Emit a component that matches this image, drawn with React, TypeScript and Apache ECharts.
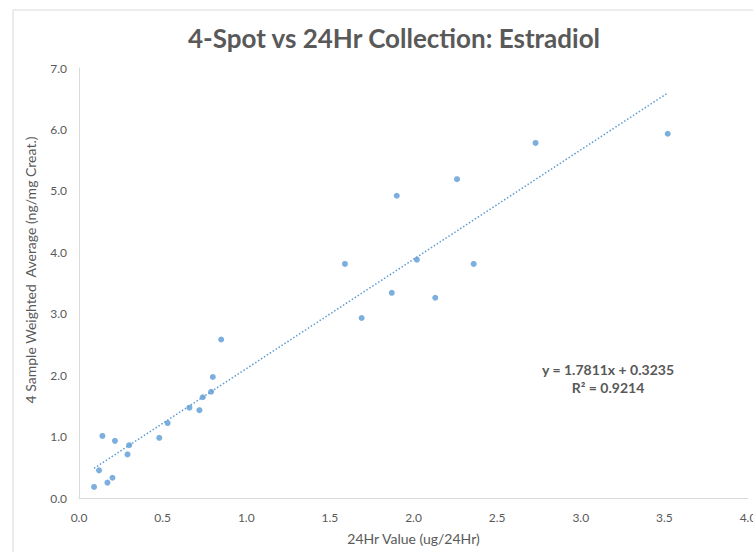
import React, { useEffect, useRef } from "react";
import * as echarts from "echarts";

const xValues = [0.09, 0.12, 0.14, 0.17, 0.2, 0.215, 0.29, 0.3, 0.48, 0.53, 0.66, 0.72, 0.74, 0.79, 0.8, 0.85, 1.59, 1.69, 1.87, 1.9, 2.02, 2.13, 2.26, 2.36, 2.73, 3.52];
const yValues = [0.18, 0.45, 1.01, 0.25, 0.33, 0.93, 0.71, 0.86, 0.98, 1.22, 1.47, 1.43, 1.64, 1.73, 1.97, 2.58, 3.81, 2.93, 3.34, 4.92, 3.88, 3.26, 5.19, 3.81, 5.78, 5.93];
const slope = 1.7811;
const intercept = 0.3235;
const rSquared = 0.9214;
const xTicks = { min: 0, max: 4, interval: 0.5 };
const yTicks = { min: 0, max: 7, interval: 1 };

export default function App() {
  const ref = useRef<HTMLDivElement>(null);
  useEffect(() => {
    if (!ref.current) return;
    const chart = echarts.init(ref.current, null, { renderer: "svg" });
    const points = xValues.map((x, i) => [x, yValues[i]]);
    const xMin = Math.min(...xValues);
    const xMax = Math.max(...xValues);
    const trend = [
      [xMin, slope * xMin + intercept],
      [xMax, slope * xMax + intercept],
    ];
    const font = "Lato, 'Open Sans', sans-serif";
    const grey = "#595959";
    chart.setOption({
      animation: false,
      backgroundColor: "#ffffff",
      title: {
        text: "4-Spot vs 24Hr Collection: Estradiol",
        left: 389,
        top: 20,
        textAlign: "center",
        textStyle: { fontFamily: font, fontSize: 26, fontWeight: "bold", color: grey },
      },
      graphic: [
        {
          type: "rect",
          shape: { x: 13, y: 10, width: 800, height: 600 },
          style: { fill: "none", stroke: "#d9d9d9", lineWidth: 1 },
          silent: true,
          z: -1,
        },
        {
          type: "text",
          x: 608,
          y: 378,
          style: {
            text: `y = ${slope}x + ${intercept}\nR² = ${rSquared}`,
            align: "center",
            verticalAlign: "middle",
            fontFamily: font,
            fontSize: 14,
            fontWeight: "bold",
            fill: grey,
            lineHeight: 18,
          },
        },
        {
          type: "text",
          x: 30,
          y: 270,
          rotation: Math.PI / 2,
          style: {
            text: "4 Sample Weighted  Average (ng/mg Creat.)",
            align: "center",
            verticalAlign: "middle",
            fontFamily: font,
            fontSize: 14,
            fill: grey,
          },
        },
      ],
      grid: { left: 79, right: 5, top: 68, bottom: 54, containLabel: false, outerBoundsMode: "none" },
      xAxis: {
        type: "value",
        min: xTicks.min,
        max: xTicks.max,
        interval: xTicks.interval,
        name: "24Hr Value (ug/24Hr)",
        nameLocation: "middle",
        nameGap: 33,
        nameTextStyle: { fontFamily: font, fontSize: 14, color: grey },
        axisLine: { show: true, lineStyle: { color: "#d9d9d9" } },
        axisTick: { show: false },
        splitLine: { show: false },
        axisLabel: {
          fontFamily: font,
          fontSize: 12,
          color: grey,
          margin: 13,
          formatter: (v: number) => v.toFixed(1),
        },
      },
      yAxis: {
        type: "value",
        min: yTicks.min,
        max: yTicks.max,
        interval: yTicks.interval,
        axisLine: { show: true, lineStyle: { color: "#d9d9d9" } },
        axisTick: { show: false },
        splitLine: { show: false },
        axisLabel: {
          fontFamily: font,
          fontSize: 12,
          color: grey,
          margin: 12,
          formatter: (v: number) => v.toFixed(1),
        },
      },
      series: [
        {
          type: "scatter",
          data: points,
          symbol: "circle",
          symbolSize: 6,
          itemStyle: { color: "#5b9bd5" },
          z: 3,
        },
        {
          type: "line",
          data: trend,
          symbol: "none",
          lineStyle: { color: "#5b9bd5", width: 1.5, type: [1.5, 2] },
          z: 2,
        },
      ],
    });
    return () => chart.dispose();
  }, []);
  return (
    <div
      ref={ref}
      style={{ position: "fixed", left: 0, top: 0, width: 753, height: 552 }}
    />
  );
}
